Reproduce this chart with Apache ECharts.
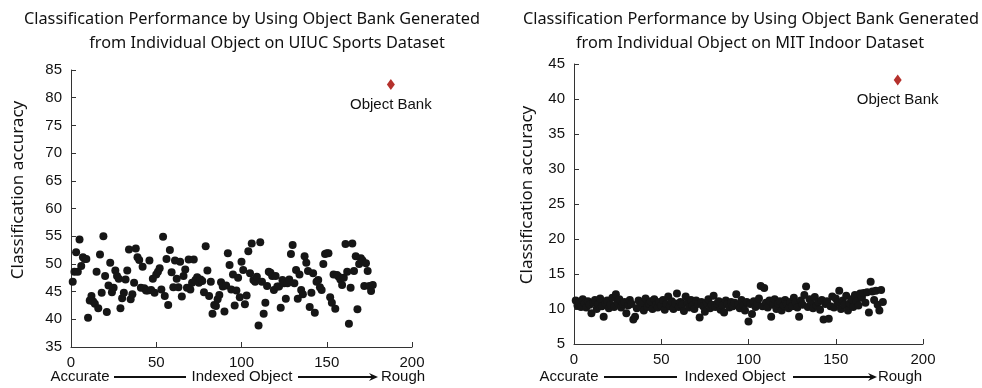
<!DOCTYPE html>
<html>
<head>
<meta charset="utf-8">
<script src="https://cdn.jsdelivr.net/npm/echarts@6/dist/echarts.min.js"></script>
<style>
  html, body { margin: 0; padding: 0; background: #fff; }
  #chart { width: 982px; height: 388px; }
</style>
</head>
<body>
<div id="chart"></div>
<script>
// UIUC Sports: accuracy per indexed object (x = 1..N)
const uiucAccuracy = [
  46.8, 48.6, 52.1, 48.6, 54.4, 49.6, 51.2, 50.9, 50.9, 40.3,
  43.4, 44.2, 43.2, 42.8, 48.6, 42.0, 51.7, 44.8, 55.0, 47.8,
  41.3, 46.1, 50.2, 44.9, 45.7, 48.8, 47.8, 47.3, 42.0, 43.8,
  44.8, 47.2, 48.8, 52.6, 43.6, 44.5, 46.6, 52.8, 51.2, 50.7,
  45.7, 49.5, 45.6, 45.2, 45.2, 50.6, 45.3, 47.3, 44.8, 48.1,
  48.6, 49.2, 45.4, 54.9, 44.2, 50.9, 42.6, 52.5, 48.5, 45.8,
  50.6, 47.3, 45.8, 50.4, 44.1, 47.8, 49.0, 45.7, 50.8, 45.4,
  46.6, 50.8, 47.1, 47.6, 46.6, 47.2, 46.9, 44.9, 53.2, 48.8,
  44.2, 46.8, 41.0, 42.6, 42.4, 43.6, 44.4, 46.7, 45.9, 41.4,
  46.1, 51.9, 49.8, 45.4, 48.1, 42.5, 45.2, 47.5, 44.0, 50.4,
  48.9, 42.7, 44.3, 52.3, 48.3, 53.7, 47.1, 46.8, 47.7, 38.9,
  53.9, 46.8, 41.0, 43.0, 46.0, 48.6, 48.4, 47.8, 45.3, 47.8,
  45.9, 45.9, 42.1, 47.1, 46.5, 43.7, 46.5, 47.2, 51.8, 53.4,
  46.5, 48.9, 43.7, 48.1, 45.3, 44.5, 51.4, 50.2, 48.7, 42.2,
  44.8, 48.3, 41.2, 46.8, 47.1, 45.8, 45.3, 50.0, 51.8, 51.9,
  51.9, 44.0, 43.0, 48.1, 41.9, 48.0, 47.7, 47.2, 46.2, 47.5,
  53.6, 48.6, 39.2, 45.7, 53.7, 48.7, 51.4, 41.8, 50.0, 51.0,
  50.6, 46.0, 50.1, 48.7, 46.0, 45.1, 46.2
];

// MIT Indoor: accuracy per indexed object (x = 1..N)
const mitAccuracy = [
  11.2, 10.5, 11.0, 10.3, 11.4, 10.8, 10.2, 11.1, 10.6, 9.4,
  10.9, 11.3, 10.0, 10.7, 11.5, 10.4, 8.9, 10.8, 11.2, 10.1,
  10.6, 11.6, 10.3, 12.1, 10.9, 11.4, 10.2, 10.8, 11.0, 9.4,
  10.5, 11.3, 10.7, 8.5, 8.9, 10.1, 11.2, 10.4, 10.9, 9.8,
  11.5, 10.3, 10.8, 11.1, 10.0, 11.4, 10.6, 10.2, 11.0, 10.5,
  11.3, 9.9, 10.7, 11.8, 10.4, 11.1, 10.0, 10.8, 12.2, 10.3,
  11.0, 10.6, 9.7, 11.8, 10.9, 10.2, 11.3, 10.5, 10.0, 11.2,
  10.7, 8.8, 11.0, 10.4, 9.6, 10.9, 11.4, 10.1, 10.6, 11.9,
  10.3, 10.8, 11.1, 9.9, 10.5, 9.5, 11.2, 10.7, 10.2, 11.0,
  10.4, 10.9, 12.1, 10.6, 10.1, 11.3, 10.5, 9.8, 11.0, 8.2,
  10.7, 9.3, 11.1, 10.3, 10.8, 11.5, 13.3, 10.4, 13.0, 10.9,
  10.2, 11.2, 8.9, 10.6, 11.4, 10.0, 10.8, 11.1, 9.8, 10.5,
  11.3, 10.7, 10.1, 11.0, 10.4, 11.6, 10.9, 10.2, 8.9, 11.2,
  10.6, 12.0, 13.2, 10.3, 11.4, 10.8, 10.1, 11.7, 10.5, 11.0,
  9.9, 11.3, 8.5, 10.7, 11.1, 8.6, 10.4, 11.8, 10.2, 11.5,
  10.9, 12.6, 10.0, 11.2, 10.6, 11.9, 9.8, 10.8, 11.4, 10.3,
  12.0, 11.1, 10.5, 12.2, 11.6, 12.3, 10.9, 12.4, 9.5, 13.9,
  12.5, 11.3, 12.6, 10.6, 9.8, 12.7, 11.0
];

// Object Bank (all objects) reference points [x, accuracy]
const uiucObjectBank = [187.6, 82.4];
const mitObjectBank = [185.5, 42.7];

const xTicks = [0, 50, 100, 150, 200];
const uiucYRange = [35, 85];
const mitYRange = [5, 45];

const titleFont = '"Noto Sans", sans-serif';
const axisFont = '"Liberation Sans", Arial, sans-serif';

function toPoints(values) {
  return values.map(function (v, i) { return [i + 1, v]; });
}

function xAxisCfg(gridIndex) {
  return {
    gridIndex: gridIndex,
    type: 'value',
    min: xTicks[0],
    max: xTicks[xTicks.length - 1],
    interval: xTicks[1] - xTicks[0],
    axisLine: { lineStyle: { color: '#333', width: 1 } },
    axisTick: { inside: true, length: 5, lineStyle: { color: '#333' } },
    axisLabel: { color: '#111', fontFamily: axisFont, fontSize: 15, margin: 8 },
    splitLine: { show: false }
  };
}

function yAxisCfg(gridIndex, range) {
  return {
    gridIndex: gridIndex,
    type: 'value',
    min: range[0],
    max: range[1],
    interval: 5,
    axisLine: { show: true, lineStyle: { color: '#333', width: 1 } },
    axisTick: { show: true, inside: true, length: 5, lineStyle: { color: '#333' } },
    axisLabel: { color: '#111', fontFamily: axisFont, fontSize: 15, margin: 9 },
    splitLine: { show: false }
  };
}

function dots(xi, values) {
  return {
    type: 'scatter',
    xAxisIndex: xi,
    yAxisIndex: xi,
    data: toPoints(values),
    symbol: 'circle',
    symbolSize: 8,
    itemStyle: { color: '#161616', opacity: 1 },
    silent: true
  };
}

function bankMark(xi, point) {
  return {
    type: 'scatter',
    xAxisIndex: xi,
    yAxisIndex: xi,
    data: [point],
    symbol: 'diamond',
    symbolSize: [8, 11],
    itemStyle: { color: '#b5312c', opacity: 1 },
    label: {
      show: true,
      position: 'bottom',
      distance: 7,
      formatter: 'Object Bank',
      color: '#111',
      fontFamily: axisFont,
      fontSize: 15
    },
    silent: true
  };
}

function text(x, y, str, opts) {
  return {
    type: 'text',
    x: x,
    y: y,
    style: Object.assign({
      text: str,
      fill: '#111',
      font: '15px ' + axisFont,
      textAlign: 'center',
      textVerticalAlign: 'middle'
    }, opts || {})
  };
}

function arrowRow(cfg) {
  const y = cfg.y;
  return [
    text(cfg.accurate, y, 'Accurate'),
    { type: 'line', shape: { x1: cfg.line1[0], y1: y, x2: cfg.line1[1], y2: y }, style: { stroke: '#111', lineWidth: 2 } },
    text(cfg.indexed, y, 'Indexed Object'),
    { type: 'line', shape: { x1: cfg.line2[0], y1: y, x2: cfg.line2[1] - 6, y2: y }, style: { stroke: '#111', lineWidth: 2 } },
    { type: 'polygon', shape: { points: [[cfg.line2[1], y], [cfg.line2[1] - 9, y - 4], [cfg.line2[1] - 6, y], [cfg.line2[1] - 9, y + 4]] }, style: { fill: '#111' } },
    text(cfg.rough, y, 'Rough')
  ];
}

const chart = echarts.init(document.getElementById('chart'), null, { renderer: 'canvas' });

chart.setOption({
  animation: false,
  backgroundColor: '#fff',
  grid: [
    { left: 71, right: 570, top: 70, bottom: 41 },
    { left: 574, right: 59, top: 64, bottom: 44 }
  ],
  xAxis: [xAxisCfg(0), xAxisCfg(1)],
  yAxis: [yAxisCfg(0, uiucYRange), yAxisCfg(1, mitYRange)],
  series: [
    dots(0, uiucAccuracy),
    bankMark(0, uiucObjectBank),
    dots(1, mitAccuracy),
    bankMark(1, mitObjectBank)
  ],
  graphic: [
    text(252, 19, 'Classification Performance by Using Object Bank Generated', { font: '16.3px ' + titleFont }),
    text(267, 43, 'from Individual Object on UIUC Sports Dataset', { font: '16.3px ' + titleFont }),
    text(751, 19, 'Classification Performance by Using Object Bank Generated', { font: '16.3px ' + titleFont }),
    text(750, 43, 'from Individual Object on MIT Indoor Dataset', { font: '16.3px ' + titleFont }),
    {
      type: 'text', x: 18, y: 190, rotation: Math.PI / 2,
      style: { text: 'Classification accuracy', fill: '#111', font: '17px ' + titleFont, textAlign: 'center', textVerticalAlign: 'middle' }
    },
    {
      type: 'text', x: 527, y: 195, rotation: Math.PI / 2,
      style: { text: 'Classification accuracy', fill: '#111', font: '17px ' + titleFont, textAlign: 'center', textVerticalAlign: 'middle' }
    }
  ].concat(
    arrowRow({ y: 377, accurate: 80, line1: [114, 186], indexed: 242, line2: [298, 378], rough: 403 }),
    arrowRow({ y: 377, accurate: 569, line1: [604, 677], indexed: 735, line2: [793, 877], rough: 900 })
  )
});
</script>
</body>
</html>
